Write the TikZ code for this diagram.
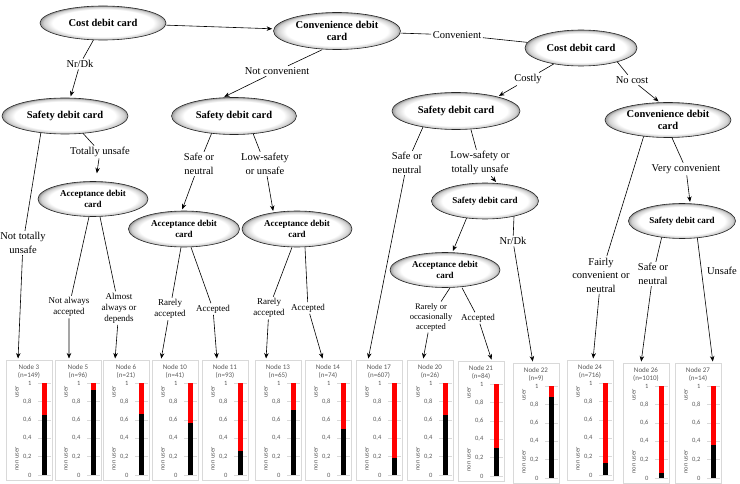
\documentclass[tikz,border=0pt]{standalone}
\usepackage{fontspec}
\setmainfont{Liberation Serif}
\newfontfamily\chartfont{Carlito}
\usepackage{tikz}
\usetikzlibrary{shapes.geometric, arrows.meta}
\definecolor{BarRed}{RGB}{255, 0, 0}
\definecolor{ChartGray}{RGB}{89, 89, 89}
\definecolor{FrameGray}{RGB}{217, 217, 217}
\pgfdeclareradialshading{ovalshade}{\pgfpoint{0bp}{0bp}}{color(0bp)=(white); color(20bp)=(white); color(23.5bp)=(black!18); color(25bp)=(black!40); color(50bp)=(black!40)}

\begin{document}
\begin{tikzpicture}[x=1pt, y=-1pt,
        split/.style={ellipse, draw=black!85, line width=0.6pt, shade, shading=ovalshade, inner sep=0pt, align=center, font=\bfseries\fontsize{10.5}{12.5}\selectfont},
        splitsm/.style={split, font=\bfseries\fontsize{9}{10.5}\selectfont},
        lbl/.style={inner sep=1.5pt, align=center, font=\fontsize{10.5}{13.5}\selectfont},
        lblsm/.style={lbl, font=\fontsize{9}{11}\selectfont},
        edge/.style={line width=0.6pt, -{Stealth[length=5.5pt, width=4.5pt]}, shorten >=1.5pt},
        link/.style={line width=0.6pt},
        leaf/.style={rectangle, draw=FrameGray, line width=0.6pt, minimum width=46pt, minimum height=120pt, anchor=north west, inner sep=0pt},
        leaftxt/.style={font=\chartfont\fontsize{7}{8}\selectfont, text=ChartGray, inner sep=0pt},
        ticktxt/.style={font=\chartfont\fontsize{6.5}{7}\selectfont, text=ChartGray, inner sep=0pt, anchor=east},
        axistxt/.style={font=\chartfont\fontsize{6.5}{7}\selectfont, text=ChartGray, inner sep=0pt, rotate=90}
    ]%
        \useasboundingbox (0,0) rectangle (740,484);
        % ================= SPLIT NODES (ELLIPSES) =================
        \node[split, minimum width=126pt, minimum height=34pt] (cost1) at (103,23) {Cost debit card};
        \node[split, minimum width=127pt, minimum height=37pt] (conv1) at (337,31) {Convenience debit\\card};
        \node[split, minimum width=112pt, minimum height=36pt] (cost2) at (581,48) {Cost debit card};
        \node[split, minimum width=126pt, minimum height=36pt] (safe1) at (65,116) {Safety debit card};
        \node[split, minimum width=125pt, minimum height=37pt] (safe2) at (234,116) {Safety debit card};
        \node[split, minimum width=128pt, minimum height=37pt] (safe3) at (456,111) {Safety debit card};
        \node[split, minimum width=126pt, minimum height=35pt] (conv2) at (668,120) {Convenience debit\\card};
        \node[splitsm, minimum width=110pt, minimum height=35pt] (acc1) at (93,199) {Acceptance debit\\card};
        \node[splitsm, minimum width=111pt, minimum height=36pt] (acc2) at (184,229) {Acceptance debit\\card};
        \node[splitsm, minimum width=110pt, minimum height=36pt] (acc3) at (297,229) {Acceptance debit\\card};
        \node[splitsm, minimum width=107pt, minimum height=36pt] (safe4) at (485,201) {Safety debit card};
        \node[splitsm, minimum width=110pt, minimum height=35pt] (acc4) at (445,270) {Acceptance debit\\card};
        \node[splitsm, minimum width=107pt, minimum height=35pt] (safe5) at (682,221) {Safety debit card};
        % ================= TERMINAL NODES (BAR CHARTS) =================
        \foreach \nd/\lx/\ty/\cnt/\fr in {3/6/360/149/0.65, 5/55/360/96/0.92, 6/103/360/21/0.66, 10/152/360/41/0.56,
                11/202/360/93/0.26, 13/255/360/65/0.71, 14/305/360/74/0.50, 17/356/360/607/0.18, 20/407/360/26/0.65,
                21/458/361/84/0.30, 22/513/363/9/0.88, 24/567/360/716/0.13, 26/623/363/1010/0.05, 27/675/363/14/0.36}{
            \node[leaf] (n\nd) at (\lx,\ty) {};
            \node[leaftxt] (nt\nd) at (\lx+23,\ty+7) {Node \nd};
            \node[leaftxt] (nc\nd) at (\lx+23,\ty+15.5) {(n=\cnt)};
            \foreach \k/\tl in {0/0, 1/{0,2}, 2/{0,4}, 3/{0,6}, 4/{0,8}, 5/1}{
                \draw[FrameGray, line width=0.4pt] (\lx+32,\ty+115-18.4*\k) -- (\lx+45,\ty+115-18.4*\k);
                \node[ticktxt] (tk\nd-\k) at (\lx+25.5,\ty+115-18.4*\k) {\tl};
            }
            \fill[black] (\lx+36,\ty+115) rectangle (\lx+41,\ty+115-92*\fr);
            \fill[BarRed] (\lx+36,\ty+115-92*\fr) rectangle (\lx+41,\ty+23);
            \node[axistxt] (ua\nd) at (\lx+11,\ty+32) {user};
            \node[axistxt] (ub\nd) at (\lx+11,\ty+99) {non user};
        }
        % ================= BRANCH LABELS =================
        \node[lbl] (l2) at (80,64) {Nr/Dk};
        \node[lbl] (l3) at (277,71) {Not convenient};
        \node[lbl] (l4) at (457,35) {Convenient};
        \node[lbl] (l5) at (528,79) {Costly};
        \node[lbl] (l6) at (632,80) {No cost};
        \node[lbl] (l7) at (23,243) {Not totally\\unsafe};
        \node[lbl] (l8) at (100,152) {Totally unsafe};
        \node[lblsm] (l9) at (69,307) {Not always\\accepted};
        \node[lblsm] (l10) at (119,308) {Almost\\always or\\depends};
        \node[lblsm] (l11) at (170,309) {Rarely\\accepted};
        \node[lblsm] (l12) at (213,309) {Accepted};
        \node[lbl] (l13) at (199,164) {Safe or\\neutral};
        \node[lbl] (l14) at (265,164) {Low-safety\\or unsafe};
        \node[lblsm] (l15) at (269,308) {Rarely\\accepted};
        \node[lblsm] (l16) at (308,308) {Accepted};
        \node[lbl] (l17) at (407,163) {Safe or\\neutral};
        \node[lbl] (l18) at (480,163) {Low-safety or\\totally unsafe};
        \node[lbl] (l20) at (513,241) {Nr/Dk};
        \node[lblsm, font=\fontsize{8.5}{10}\selectfont] (l21) at (431,317) {Rarely or\\occasionally\\accepted};
        \node[lblsm] (l22) at (478,318) {Accepted};
        \node[lbl] (l23) at (601,275) {Fairly\\convenient or\\neutral};
        \node[lbl] (l24) at (686,169) {Very convenient};
        \node[lbl] (l25) at (653,274) {Safe or\\neutral};
        \node[lbl] (l26) at (722,271) {Unsafe};
        % ================= BRANCHES =================
        \draw[edge] (cost1) -- (conv1);
        \draw[edge] (cost1) -- (l2) -- (safe1);
        \draw[edge] ([xshift=-15pt]conv1.south) -- (l3) -- (safe2.121);
        \draw[link] (conv1) -- (l4) -- (cost2);
        \draw[edge] (cost2) -- (l5) -- (safe3.19);
        \draw[edge] (cost2.339) -- (l6) -- (conv2.115);
        % left subtree
        \draw[edge] (safe1.215) -- (l7) -- ([xshift=12pt]n3.north west);
        \draw[edge, shorten >=8pt] (safe1.316) -- (l8) -- (acc1);
        \draw[edge] ([xshift=-4pt]acc1.south) -- (l9) -- ([xshift=14pt]n5.north west);
        \draw[edge] ([xshift=7pt]acc1.south) -- (l10) -- ([xshift=12pt]n6.north west);
        \draw[edge] (safe2.218) -- (l13) -- (acc2.97);
        \draw[edge] (safe2.317) -- (l14) -- (acc3.145);
        \draw[edge] ([xshift=-3pt]acc2.south) -- (l11) -- ([xshift=9pt]n10.north west);
        \draw[edge] ([xshift=7pt]acc2.south) -- (l12) -- ([xshift=15pt]n11.north west);
        \draw[edge] ([xshift=-5pt]acc3.south) -- (l15) -- ([xshift=11pt]n13.north west);
        \draw[edge] ([xshift=8pt]acc3.south) -- (l16) -- ([xshift=18pt]n14.north west);
        % right subtree
        \draw[edge] (safe3.206) -- (l17) -- ([xshift=12pt]n17.north west);
        \draw[edge] ([xshift=15pt]safe3.south) -- (l18) -- (safe4.56);
        \draw[edge] (safe4.223) -- (acc4);
        \draw[edge] (safe4.332) -- (l20) -- ([xshift=20pt]n22.north west);
        \draw[edge] ([xshift=5pt]acc4.south) -- (l21) -- ([xshift=16pt]n20.north west);
        \draw[edge] ([xshift=17pt]acc4.south) -- (l22) -- ([xshift=34pt]n21.north west);
        \draw[edge] (conv2.214) -- (l23) -- ([xshift=26pt]n24.north west);
        \draw[edge] ([xshift=4pt]conv2.south) -- (l24) -- (safe5.65);
        \draw[edge] (safe5.219) -- (l25) -- ([xshift=18pt]n26.north west);
        \draw[edge] (safe5.312) -- ([xshift=38pt]n27.north west);
    \end{tikzpicture}
\end{document}
